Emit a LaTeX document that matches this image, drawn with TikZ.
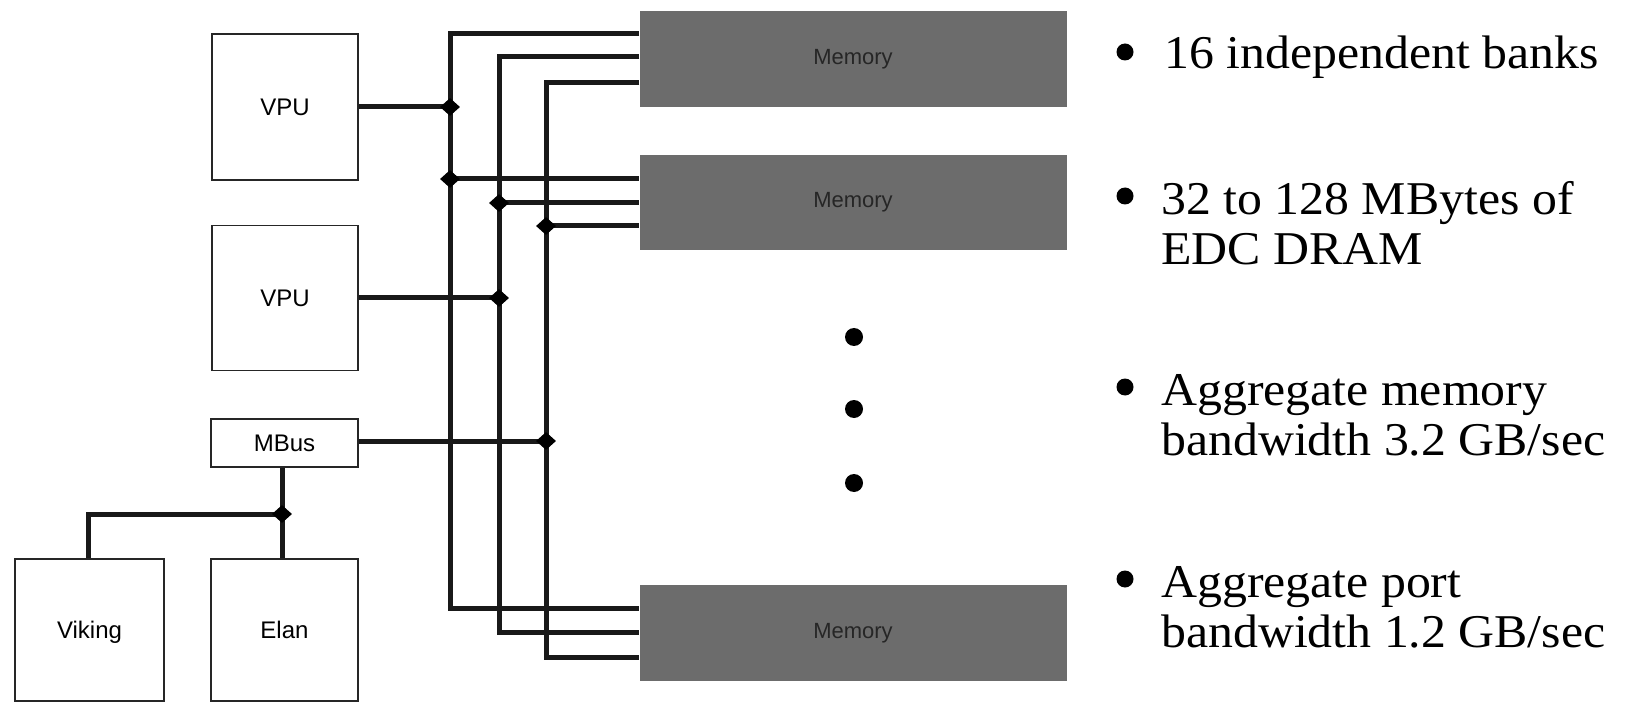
\documentclass[tikz,border=0pt]{standalone}
\usepackage{fontspec}
\setmainfont{Liberation Serif}
\setsansfont{Liberation Sans}
\newfontfamily\slidefont[FakeStretch=1.06]{Liberation Serif}
\usetikzlibrary{shapes.geometric}
\definecolor{memgray}{HTML}{6C6C6C}

\begin{document}
\begin{tikzpicture}[
  x=1pt, y=-1pt,
  unit/.style={draw=black!85, line width=1.6pt, fill=white, inner sep=0pt,
    text height=17pt, text depth=0pt,
    font=\sffamily\fontsize{24}{28}\selectfont},
  mem/.style={fill=memgray, minimum width=427pt, minimum height=96pt,
    inner sep=0pt, text=black!85, font=\sffamily\fontsize{22}{26}\selectfont},
  bus/.style={line width=5pt, black!90},
  tap/.style={diamond, fill=black, minimum width=20pt, minimum height=18pt, inner sep=0pt},
  dot/.style={circle, fill=black, minimum size=18pt, inner sep=0pt},
  bul/.style={circle, fill=black, minimum size=17pt, inner sep=0pt},
  item/.style={anchor=base west, align=left, inner sep=0pt,
    font=\slidefont\fontsize{47}{50}\selectfont},
]
\useasboundingbox (0,0) rectangle (1628,703);

% processors and i/o
\node[unit, minimum width=146pt, minimum height=146pt] (vpuA) at (285,107) {VPU};
\node[unit, minimum width=146pt, minimum height=145pt] (vpuB) at (285,298) {VPU};
\node[unit, minimum width=147pt, minimum height=48pt] (mbus) at (284.5,443) {MBus};
\node[unit, minimum width=149pt, minimum height=142pt] (viking) at (89.5,630) {Viking};
\node[unit, minimum width=147pt, minimum height=142pt] (elan) at (284.5,630) {Elan};

% memory banks
\node[mem] (memA) at (853,59) {Memory};
\node[mem, minimum height=95pt] (memB) at (853,202.5) {Memory};
\node[mem] (memC) at (853,633) {Memory};

\foreach \y/\n in {337/a, 409/b, 483/c}
  \node[dot] (dot\n) at (854,\y) {};

% the three buses
\coordinate (busAtop) at (450,34);
\coordinate (busAbot) at (450,608);
\coordinate (busBtop) at (499,57);
\coordinate (busBbot) at (499,632);
\coordinate (busCtop) at (546,83);
\coordinate (busCbot) at (546,657);
\draw[bus] (memA.west |- busAtop) -- (busAtop) -- (busAbot) -- (memC.west |- busAbot);
\draw[bus] (memA.west |- busBtop) -- (busBtop) -- (busBbot) -- (memC.west |- busBbot);
\draw[bus] (memA.west |- busCtop) -- (busCtop) -- (busCbot) -- (memC.west |- busCbot);

\coordinate (tapA) at (450,107);
\coordinate (tapB) at (450,179);
\coordinate (tapC) at (499,203);
\coordinate (tapD) at (546,226);
\coordinate (tapE) at (499,298);
\coordinate (tapF) at (546,441);
\coordinate (tapG) at (282,514);

\draw[bus] (vpuA.east) -- (tapA);
\draw[bus] (vpuB.east |- tapE) -- (tapE);
\draw[bus] (mbus.east |- tapF) -- (tapF);
\draw[bus] (tapB) -- (memB.west |- tapB);
\draw[bus] (tapC) -- (memB.west |- tapC);
\draw[bus] (tapD) -- (memB.west |- tapD);
\draw[bus] (mbus.south -| tapG) -- (elan.north -| tapG);
\draw[bus] (tapG) -| (viking.north -| 88,0);

\foreach \t in {A,B,C,D,E,F,G}
  \node[tap] at (tap\t) {};

% feature list (base of the last line)
\node[bul] (bulA) at (1125,52) {};
\node[bul] (bulB) at (1125,196) {};
\node[bul] (bulC) at (1125,387) {};
\node[bul] (bulD) at (1125,579) {};
\node[item] (itemA) at (1164,69) {16 independent banks};
\node[item] (itemB) at (1161,265) {32 to 128 MBytes of\\EDC DRAM};
\node[item] (itemC) at (1161,455) {Aggregate memory\\bandwidth 3.2 GB/sec};
\node[item] (itemD) at (1161,647) {Aggregate port\\bandwidth 1.2 GB/sec};
\end{tikzpicture}
\end{document}
